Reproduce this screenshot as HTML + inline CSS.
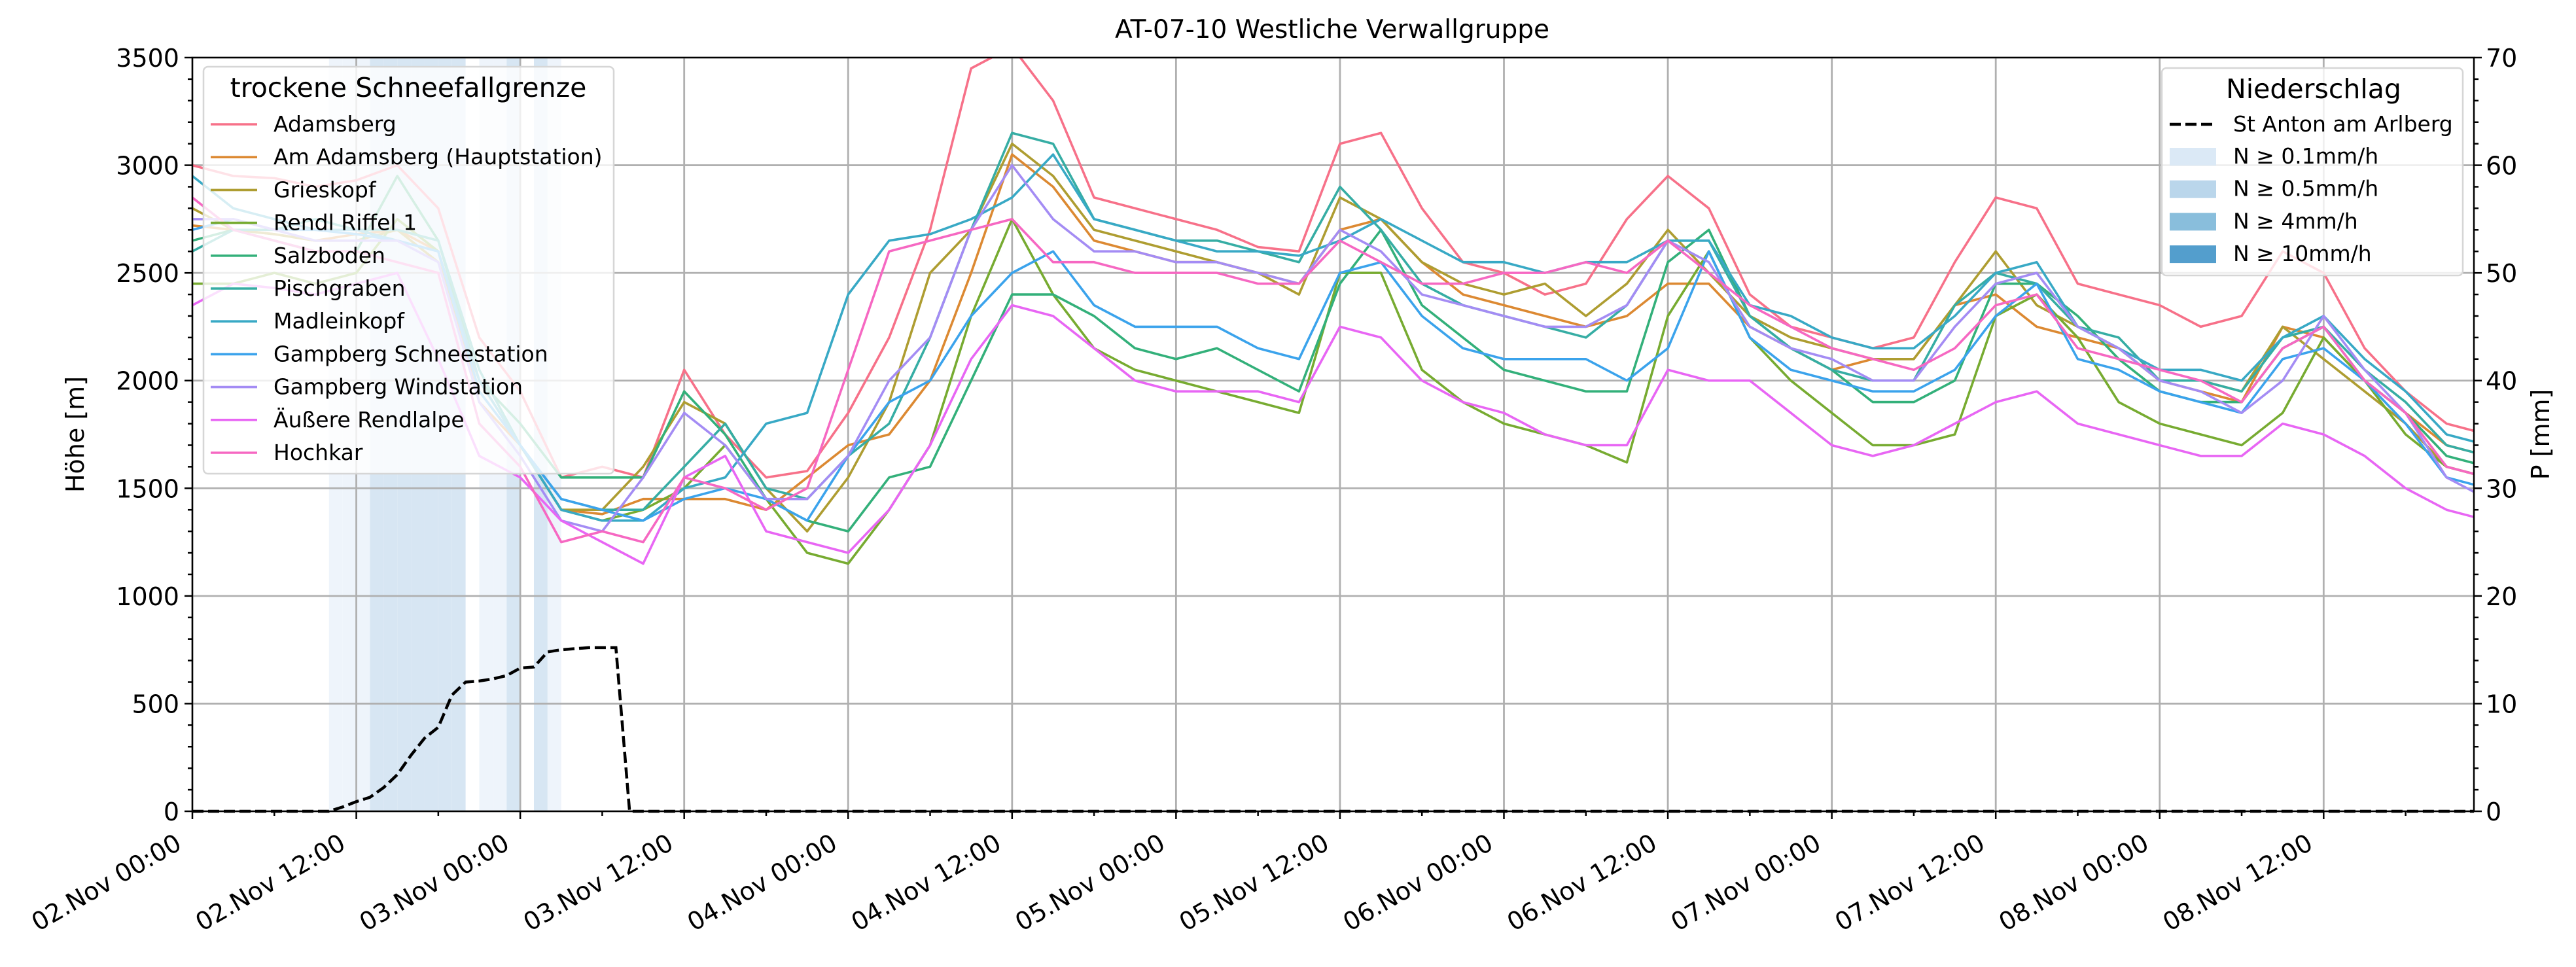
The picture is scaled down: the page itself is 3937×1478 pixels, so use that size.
<!DOCTYPE html>
<html><head><meta charset="utf-8"><style>
html,body{margin:0;padding:0;background:#fff;}
svg{display:block;font-family:"DejaVu Sans","Liberation Sans",sans-serif;}
</style></head><body>
<svg id="chart" width="3937" height="1478" viewBox="0 0 3937 1478" xmlns="http://www.w3.org/2000/svg">
<rect x="0" y="0" width="3937" height="1478" fill="#fff"/>
<g id="bands"></g><g id="grid"></g><g id="series"></g><g id="precip"></g><g id="axes"></g><g id="legends"></g>
<text x="2036" y="58" font-size="39" text-anchor="middle">AT-07-10 Westliche Verwallgruppe</text>
<text transform="translate(128,664) rotate(-90)" font-size="38" text-anchor="middle">Höhe [m]</text>
<text transform="translate(3896,664) rotate(-90)" font-size="38" text-anchor="middle">P [mm]</text>
</svg>
<script>
const hours=[0,3,6,9,12,15,18,21,24,27,30,33,36,39,42,45,48,51,54,57,60,63,66,69,72,75,78,81,84,87,90,93,96,99,102,105,108,111,114,117,120,123,126,129,132,135,138,141,144,147,150,153,156,159,162,165,168];
const stationNames=["Adamsberg","Am Adamsberg (Hauptstation)","Grieskopf","Rendl Riffel 1","Salzboden","Pischgraben","Madleinkopf","Gampberg Schneestation","Gampberg Windstation","Äußere Rendlalpe","Hochkar"];
const stationColors=["#f77189","#dc8932","#ae9d31","#77ab31","#33b07a","#36ada4","#38a9c5","#3ba3ec","#a48cf4","#e866f4","#f668c2"];
const adamsberg=[3000,2950,2940,2900,2930,3000,2800,2200,1950,1550,1600,1550,2050,1750,1550,1580,1850,2200,2700,3450,3550,3300,2850,2800,2750,2700,2620,2600,3100,3150,2800,2550,2500,2400,2450,2750,2950,2800,2400,2250,2200,2150,2200,2550,2850,2800,2450,2400,2350,2250,2300,2600,2500,2150,1950,1800,1750];
const amAdamsberg=[2720,2700,2680,2650,2680,2700,2600,1900,1700,1400,1380,1450,1450,1450,1400,1550,1700,1750,2000,2500,3050,2900,2650,2600,2550,2550,2500,2450,2700,2750,2550,2400,2350,2300,2250,2300,2450,2450,2250,2150,2050,2100,2100,2350,2400,2250,2200,2150,2000,1950,1900,2250,2200,2000,1850,1700,1650];
const grieskopf=[2800,2700,2680,2650,2650,2700,2550,2000,1700,1400,1400,1600,1900,1800,1500,1300,1550,1900,2500,2700,3100,2950,2700,2650,2600,2550,2500,2400,2850,2750,2550,2450,2400,2450,2300,2450,2700,2500,2300,2200,2150,2100,2100,2350,2600,2350,2250,2150,2000,2000,1950,2250,2100,1950,1800,1600,1550];
const rendlRiffel=[2450,2450,2500,2450,2500,2750,2600,1950,1700,1400,1350,1400,1500,1700,1450,1200,1150,1400,1700,2300,2750,2400,2150,2050,2000,1950,1900,1850,2500,2500,2050,1900,1800,1750,1700,1620,2300,2600,2200,2000,1850,1700,1700,1750,2300,2400,2200,1900,1800,1750,1700,1850,2200,2000,1750,1600,1550];
const salzboden=[2650,2700,2650,2600,2600,2950,2650,2000,1800,1550,1550,1550,1950,1750,1450,1350,1300,1550,1600,2000,2400,2400,2300,2150,2100,2150,2050,1950,2450,2700,2350,2200,2050,2000,1950,1950,2550,2700,2300,2150,2050,1900,1900,2000,2450,2450,2300,2100,1950,1900,1900,2150,2250,2000,1850,1650,1600];
const pischgraben=[2600,2700,2700,2750,2700,2700,2650,2050,1700,1450,1400,1400,1600,1800,1500,1450,1650,1800,2200,2700,3150,3100,2750,2700,2650,2650,2600,2550,2900,2700,2450,2350,2300,2250,2200,2350,2650,2650,2300,2150,2050,2000,2000,2350,2500,2450,2250,2200,2000,2000,1950,2200,2250,2050,1900,1700,1650];
const madleinkopf=[2950,2800,2750,2700,2700,2650,2600,2000,1700,1400,1350,1350,1500,1550,1800,1850,2400,2650,2680,2750,2850,3050,2750,2700,2650,2600,2600,2580,2650,2750,2650,2550,2550,2500,2550,2550,2650,2650,2350,2300,2200,2150,2150,2300,2500,2550,2250,2150,2050,2050,2000,2200,2300,2100,1950,1750,1700];
const gampbergSchnee=[2700,2750,2700,2700,2680,2650,2600,1950,1700,1450,1400,1350,1450,1500,1450,1350,1650,1900,2000,2300,2500,2600,2350,2250,2250,2250,2150,2100,2500,2550,2300,2150,2100,2100,2100,2000,2150,2600,2200,2050,2000,1950,1950,2050,2300,2450,2100,2050,1950,1900,1850,2100,2150,2000,1800,1550,1500];
const gampbergWind=[2750,2750,2700,2650,2650,2650,2550,1900,1650,1350,1300,1550,1850,1700,1450,1450,1650,2000,2200,2700,3000,2750,2600,2600,2550,2550,2500,2450,2700,2600,2400,2350,2300,2250,2250,2350,2650,2550,2250,2150,2100,2000,2000,2250,2450,2500,2250,2150,2000,1950,1850,2000,2300,2050,1850,1550,1450];
const aeussereRendl=[2350,2450,2430,2400,2450,2500,2100,1650,1550,1350,1250,1150,1550,1650,1300,1250,1200,1400,1700,2100,2350,2300,2150,2000,1950,1950,1950,1900,2250,2200,2000,1900,1850,1750,1700,1700,2050,2000,2000,1850,1700,1650,1700,1800,1900,1950,1800,1750,1700,1650,1650,1800,1750,1650,1500,1400,1350];
const hochkar=[2850,2700,2650,2600,2600,2550,2500,1800,1600,1250,1300,1250,1550,1500,1400,1500,2050,2600,2650,2700,2750,2550,2550,2500,2500,2500,2450,2450,2650,2550,2450,2450,2500,2500,2550,2500,2650,2500,2350,2250,2150,2100,2050,2150,2350,2400,2150,2100,2050,2000,1900,2150,2250,2000,1850,1600,1550];
const stationSeries=[adamsberg,amAdamsberg,grieskopf,rendlRiffel,salzboden,pischgraben,madleinkopf,gampbergSchnee,gampbergWind,aeussereRendl,hochkar];
const precipHours=[0,1,2,3,4,5,6,7,8,9,10,11,12,13,14,15,16,17,18,19,20,21,22,23,24,25,26,27,28,29,30,31,32,33,34,35,36,37,38,39,40];
const precipCum=[0,0,0,0,0,0,0,0,0,0,0,0.4,0.9,1.3,2.2,3.4,5.2,6.8,7.8,10.8,12.0,12.1,12.3,12.6,13.3,13.4,14.8,15.0,15.1,15.2,15.2,15.2,0,0,0,0,0,0,0,0,0];
const rateHours=[10,11,12,13,14,15,16,17,18,19,20,21,22,23,24,25,26];
const rateValues=[0.2,0.3,0.3,0.6,0.9,1.2,1.8,1.6,1.0,3.0,0,0.2,0.3,0.6,0,0.6,0.2];
const xTickLabels=["02.Nov 00:00","02.Nov 12:00","03.Nov 00:00","03.Nov 12:00","04.Nov 00:00","04.Nov 12:00","05.Nov 00:00","05.Nov 12:00","06.Nov 00:00","06.Nov 12:00","07.Nov 00:00","07.Nov 12:00","08.Nov 00:00","08.Nov 12:00"];
const yTicks=[0,500,1000,1500,2000,2500,3000,3500];
const y2Ticks=[0,10,20,30,40,50,60,70];
const bandLabels=["N ≥ 0.1mm/h","N ≥ 0.5mm/h","N ≥ 4mm/h","N ≥ 10mm/h"];
const bandThresholds=[0.1,0.5,4,10];
const bandColors=["#dbe9f6","#bad6eb","#89bedc","#539ecd"];

const L=294,R=3781,T=88,B=1240,HMAX=167;
const NS="http://www.w3.org/2000/svg";
const X=h=>L+(R-L)*h/HMAX;
const Y=m=>B-(B-T)*m/3500;
const Y2=p=>B-(B-T)*p/70;
function mk(tag,attrs,parent){const e=document.createElementNS(NS,tag);for(const k in attrs)e.setAttribute(k,attrs[k]);parent.appendChild(e);return e;}
const svg=document.getElementById('chart');
const gB=document.getElementById('bands'),gG=document.getElementById('grid'),gS=document.getElementById('series'),gP=document.getElementById('precip'),gA=document.getElementById('axes'),gL=document.getElementById('legends');
const clip=mk('clipPath',{id:'plotclip'},mk('defs',{},svg));mk('rect',{x:L,y:T,width:R-L,height:B-T},clip);
gS.setAttribute('clip-path','url(#plotclip)');
rateHours.forEach((h,i)=>{const v=rateValues[i];let c=null;bandThresholds.forEach((t,j)=>{if(v>=t)c=j;});if(c===null)return;
 const shades=["#eef4fb","#d7e6f3","#a9cde6","#6fb0d8"];
 const r=mk('rect',{x:X(h),y:T,width:X(h+1)-X(h),height:B-T,fill:shades[c]},gB);
 
 });
for(let i=0;i<xTickLabels.length;i++){const x=X(i*12);const l=mk('line',{x1:x,x2:x,y1:T,y2:B,stroke:'#b0b0b0','stroke-width':2.8},gG);
 
 }
yTicks.forEach(m=>{const l=mk('line',{x1:L,x2:R,y1:Y(m),y2:Y(m),stroke:'#b0b0b0','stroke-width':2.8},gG);
 
 });
stationSeries.forEach((s,i)=>{const d=s.map((v,k)=>(k?'L':'M')+X(hours[k]).toFixed(1)+','+Y(v).toFixed(1)).join(' ');
 const p=mk('path',{d:d,fill:'none',stroke:stationColors[i],'stroke-width':3.6,'stroke-linejoin':'round'},gS);
 
 });
{let d=precipHours.map((h,k)=>(k?'L':'M')+X(h).toFixed(1)+','+Y2(precipCum[k]).toFixed(1)).join(' ');d+=' L'+X(HMAX)+','+Y2(0);
 const p=mk('path',{d:d,fill:'none',stroke:'#000','stroke-width':4.5,'stroke-dasharray':'17,7'},gP);
 
 }
const fr=mk('rect',{x:L,y:T,width:R-L,height:B-T,fill:'none',stroke:'#000','stroke-width':2.5},gA);


for(let h=0;h<=HMAX;h+=6){const major=h%12===0;mk('line',{x1:X(h),x2:X(h),y1:B,y2:B+(major?12:7),stroke:'#000','stroke-width':2.5},gA);}
xTickLabels.forEach((t,i)=>{const x=X(i*12);const e=mk('text',{transform:`translate(${x-14},1296) rotate(-30)`,'font-size':38,'text-anchor':'end'},gA);e.textContent=t;
 
 });
for(let m=0;m<=3500;m+=100){const major=m%500===0;mk('line',{x1:L,x2:L-(major?12:7),y1:Y(m),y2:Y(m),stroke:'#000','stroke-width':2.5},gA);}
yTicks.forEach(m=>{const e=mk('text',{x:L-20,y:Y(m)+14,'font-size':38,'text-anchor':'end'},gA);e.textContent=m;
 
 });
for(let p=0;p<=70;p+=2){const major=p%10===0;mk('line',{x1:R,x2:R+(major?12:7),y1:Y2(p),y2:Y2(p),stroke:'#000','stroke-width':2.5},gA);}
y2Ticks.forEach(p=>{const e=mk('text',{x:R+18,y:Y2(p)+14,'font-size':38},gA);e.textContent=p;
 
 });
{const g=mk('g',{},gL);
 mk('rect',{x:311,y:102,width:627,height:622,rx:7,fill:'#fff','fill-opacity':0.8,stroke:'#d6d6d6','stroke-width':2.5},g);
 const tt=mk('text',{x:624,y:148,'font-size':41,'text-anchor':'middle'},g);tt.textContent='trockene Schneefallgrenze';
 stationNames.forEach((n,i)=>{const y=190+i*50.2;mk('line',{x1:322,x2:393,y1:y,y2:y,stroke:stationColors[i],'stroke-width':3.6},g);
  const t=mk('text',{x:418,y:y+11,'font-size':33},g);t.textContent=n;
  
  });}
{const g=mk('g',{},gL);
 mk('rect',{x:3304,y:104,width:460,height:317,rx:7,fill:'#fff','fill-opacity':0.8,stroke:'#d6d6d6','stroke-width':2.5},g);
 const tt=mk('text',{x:3536,y:150,'font-size':41,'text-anchor':'middle'},g);tt.textContent='Niederschlag';
 mk('line',{x1:3316,x2:3386,y1:190,y2:190,stroke:'#000','stroke-width':4.5,'stroke-dasharray':'17,7'},g);
 const t0=mk('text',{x:3413,y:201,'font-size':33},g);t0.textContent='St Anton am Arlberg';
 bandLabels.forEach((n,i)=>{const y=239+i*49.7;mk('rect',{x:3316,y:y-13,width:71,height:27,fill:bandColors[i]},g);
  const t=mk('text',{x:3413,y:y+11,'font-size':33},g);t.textContent=n;
  
  });}
</script>
</body></html>
